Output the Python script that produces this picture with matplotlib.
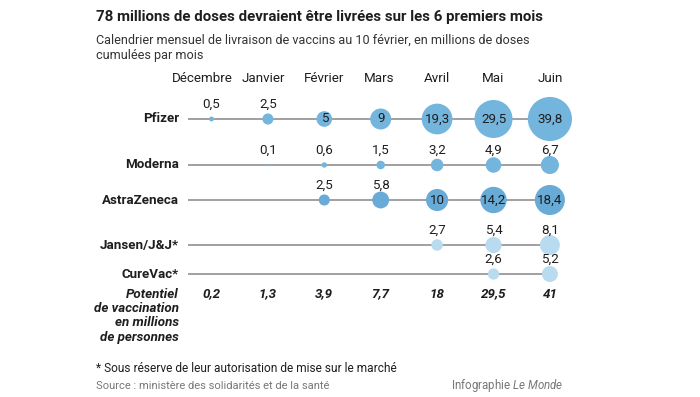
import matplotlib
matplotlib.use("Agg")
import matplotlib.pyplot as plt

plt.rcParams['font.family'] = ['Roboto', 'DejaVu Sans']
plt.rcParams['mathtext.fontset'] = 'custom'
plt.rcParams['mathtext.rm'] = 'Roboto'
plt.rcParams['mathtext.it'] = 'Roboto:italic'

# ---------------- data ----------------
title = "78 millions de doses devraient être livrées sur les 6 premiers mois"
subtitle = ("Calendrier mensuel de livraison de vaccins au 10 février, en millions de doses\n"
            "cumulées par mois")
months = ['Décembre', 'Janvier', 'Février', 'Mars', 'Avril', 'Mai', 'Juin']
vaccines = ['Pfizer', 'Moderna', 'AstraZeneca', 'Jansen/J&J*', 'CureVac*']
pfizer = [0.5, 2.5, 5, 9, 19.3, 29.5, 39.8]
moderna = [None, 0.1, 0.6, 1.5, 3.2, 4.9, 6.7]
astrazeneca = [None, None, 2.5, 5.8, 10, 14.2, 18.4]
jansen = [None, None, None, None, 2.7, 5.4, 8.1]
curevac = [None, None, None, None, None, 2.6, 5.2]
series = [pfizer, moderna, astrazeneca, jansen, curevac]
# first month index whose label sits inside the bubble (None = always above)
inside_from = [2, None, 4, None, None]
potentiel = [0.2, 1.3, 3.9, 7.7, 18, 29.5, 41]
potentiel_label = "Potentiel\nde vaccination\nen millions\nde personnes"
footnote = "* Sous réserve de leur autorisation de mise sur le marché"
source = "Source : ministère des solidarités et de la santé"
credit = "Infographie $\\it{Le\\ Monde}$"

# ---------------- style / layout ----------------
colors = ['#74b5dd', '#74b5dd', '#67abd6', '#b9dbef', '#b9dbef']
TXT = '#1e1e1e'
GREY = '#999999'
X0, DX = 211.5, 56.4          # pixel x of first month column, column step
MONTH_SHIFT = [-9, -4.5, 0, -2, 0, 0, 0]   # small label offsets in the original layout
LINE_START = 188
ROW_Y = [119, 165, 200, 245, 274]
LABEL_X = 179
S_PER_UNIT = 25.4              # scatter area (pt^2) per million doses


def fmt(v):
    return f"{v:g}".replace('.', ',')


fig = plt.figure(figsize=(7, 3.97), dpi=100)
ax = fig.add_axes([0, 0, 1, 1])
ax.set_xlim(0, 700)
ax.set_ylim(397, 0)
ax.axis('off')


def colx(i):
    return X0 + i * DX


ax.text(96, 17, title, fontsize=10.85, fontweight='bold', color=TXT, va='center', ha='left')
ax.text(96, 48, subtitle, fontsize=9.05, color='#333333', va='center', ha='left', linespacing=1.3)

for i, m in enumerate(months):
    ax.text(colx(i) + MONTH_SHIFT[i], 78, m, fontsize=9.6, color=TXT, ha='center', va='center')

for r, (name, vals, col, inside) in enumerate(zip(vaccines, series, colors, inside_from)):
    y = ROW_Y[r]
    ax.plot([LINE_START, colx(len(months) - 1)], [y, y], color=GREY, lw=1.3, zorder=1,
            solid_capstyle='butt')
    ax.text(LABEL_X, y, name, fontsize=9.6, fontweight='semibold', color=TXT,
            ha='right', va='center')
    xs = [colx(i) for i, v in enumerate(vals) if v is not None]
    vs = [v for v in vals if v is not None]
    ax.scatter(xs, [y] * len(xs), s=[S_PER_UNIT * v for v in vs], color=col,
               edgecolors='none', zorder=2)
    for i, v in enumerate(vals):
        if v is None:
            continue
        if inside is not None and i >= inside:
            ax.text(colx(i), y, fmt(v), fontsize=9.6, color=TXT, ha='center', va='center', zorder=3)
        else:
            ax.text(colx(i), y - 15, fmt(v), fontsize=9.6, color=TXT, ha='center', va='center', zorder=3)

ax.text(LABEL_X, 288, potentiel_label, fontsize=9.6, fontweight='bold', fontstyle='italic',
        color=TXT, ha='right', va='top', linespacing=1.12)
for i, v in enumerate(potentiel):
    ax.text(colx(i), 294, fmt(v), fontsize=9.6, fontweight='bold', fontstyle='italic',
            color=TXT, ha='center', va='center')

ax.text(96, 368, footnote, fontsize=8.6, color=TXT, ha='left', va='center')
ax.text(96, 386, source, fontsize=8.05, color='#777777', ha='left', va='center')
ax.text(563, 386, credit, fontsize=8.3, color='#777777', ha='right', va='center')

fig.savefig('out.png', dpi=100, facecolor='white')
